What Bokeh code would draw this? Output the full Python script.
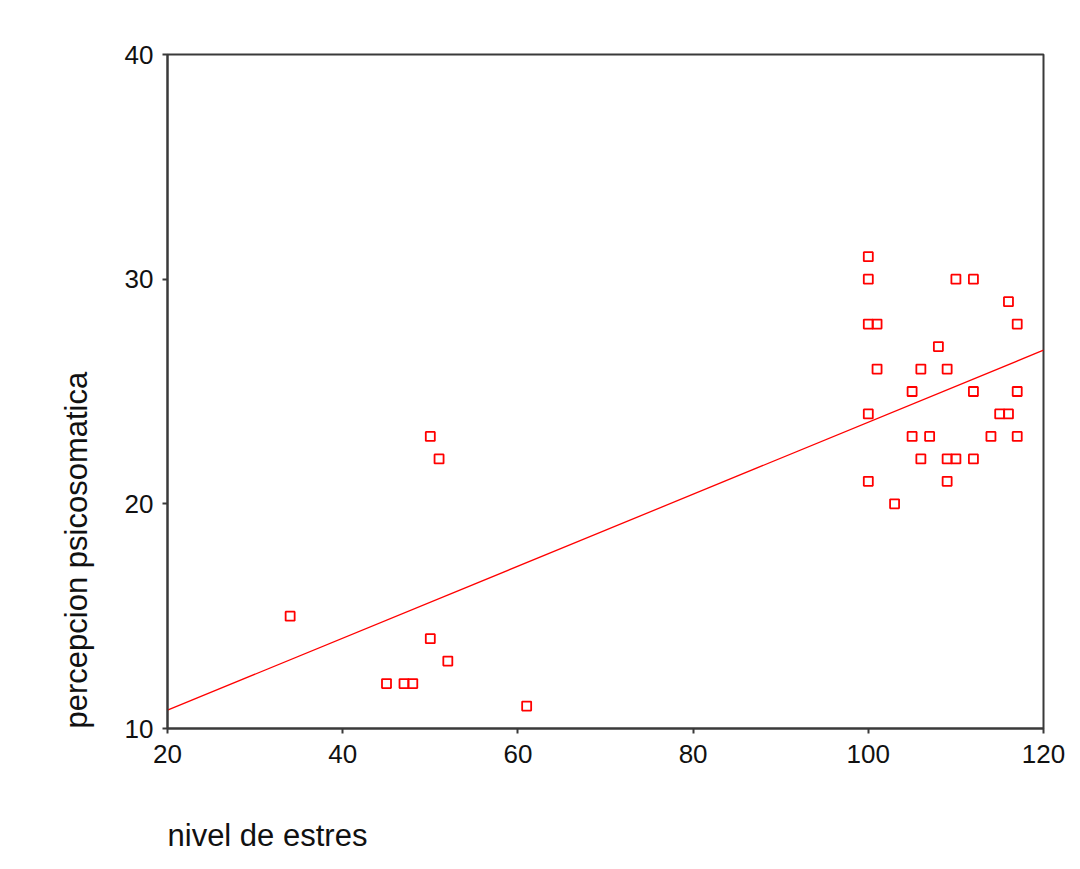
import numpy as np
from bokeh.plotting import figure
from bokeh.models import Range1d, FixedTicker, Title
from bokeh.embed import file_html
from bokeh.resources import INLINE

# Data
stress = [100, 100, 110, 112, 116, 100, 101, 117, 108, 101, 106, 109,
          105, 112, 117, 100, 115, 116, 105, 107, 114, 117,
          106, 109, 110, 112, 100, 109, 103,
          50, 51, 34, 50, 52, 45, 47, 48, 61]
psico = [31, 30, 30, 30, 29, 28, 28, 28, 27, 26, 26, 26,
         25, 25, 25, 24, 24, 24, 23, 23, 23, 23,
         22, 22, 22, 22, 21, 21, 20,
         23, 22, 15, 14, 13, 12, 12, 12, 11]
x_ticks = [20, 40, 60, 80, 100, 120]
y_ticks = [10, 20, 30, 40]
x_label = "nivel de estres"
y_label = "percepcion psicosomatica"

FONT = "Liberation Sans"
RED = "#ff0000"
AX = "#3a3a3a"

p = figure(width=1072, height=861, output_backend="svg", toolbar_location=None,
           x_range=Range1d(x_ticks[0], x_ticks[-1]),
           y_range=Range1d(y_ticks[0], y_ticks[-1]),
           min_border_left=167, min_border_right=29,
           min_border_top=54, min_border_bottom=133)

p.grid.visible = False
p.outline_line_color = AX
p.outline_line_width = 2
p.background_fill_color = "white"
p.border_fill_color = "white"

for ax in (p.xaxis[0], p.yaxis[0]):
    ax.axis_line_color = AX
    ax.axis_line_width = 2
    ax.major_tick_line_color = AX
    ax.major_tick_line_width = 2
    ax.major_tick_out = 5
    ax.major_tick_in = 0
    ax.minor_tick_line_color = None
    ax.major_label_text_font = FONT
    ax.major_label_text_font_size = "26px"
    ax.major_label_text_color = "#111111"

p.xaxis.ticker = FixedTicker(ticks=x_ticks)
p.yaxis.ticker = FixedTicker(ticks=y_ticks)
p.xaxis.major_label_standoff = 11
p.yaxis.major_label_standoff = 9

# spacer between x axis and its label
spacer = Title(text=" ", text_font_size="1px", standoff=47)
xt = Title(text=x_label, align="left", text_font=FONT, text_font_size="31px",
           text_font_style="normal", text_color="#111111", standoff=0)
yt = Title(text=y_label, align="left", text_font=FONT, text_font_size="31px",
           text_font_style="normal", text_color="#111111", standoff=56)
p.add_layout(spacer, "below")
p.add_layout(xt, "below")
p.add_layout(yt, "left")

# Least-squares fit line
slope, intercept = np.polyfit(np.array(stress, float), np.array(psico, float), 1)
xl = np.array([x_ticks[0], x_ticks[-1]], float)
p.line(xl, intercept + slope * xl, line_color=RED, line_width=1.3)

p.scatter(stress, psico, marker="square", size=9, fill_color=None,
          line_color=RED, line_width=1.8)

open("out.html", "w").write(file_html(p, INLINE))
